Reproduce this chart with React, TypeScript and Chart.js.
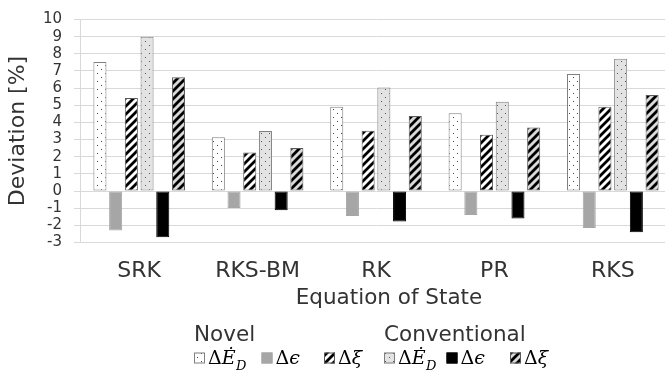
import React, { useEffect, useRef } from 'react';
import { Chart, registerables } from 'chart.js';

Chart.register(...registerables);

const categories = ['SRK', 'RKS-BM', 'RK', 'PR', 'RKS'];
const novelEdot = [7.52, 3.14, 4.91, 4.53, 6.82];
const novelEps = [-2.3, -0.99, -1.46, -1.39, -2.15];
const novelXi = [5.43, 2.25, 3.52, 3.28, 4.91];
const convEdot = [9.0, 3.5, 6.04, 5.2, 7.71];
const convEps = [-2.69, -1.12, -1.77, -1.6, -2.4];
const convXi = [6.63, 2.51, 4.38, 3.71, 5.6];
const yMin = -3;
const yMax = 10;
const groupTitles = ['Novel', 'Conventional'];
const xTitle = 'Equation of State';
const yTitle = 'Deviation [%]';

const SANS = '"DejaVu Sans", sans-serif';
const SERIF = '"DejaVu Serif", serif';
const TEXT = '#333333';

function dotPattern(bg: string, dot: string): CanvasPattern {
  const c = document.createElement('canvas');
  c.width = 8;
  c.height = 8;
  const x = c.getContext('2d')!;
  x.fillStyle = bg;
  x.fillRect(0, 0, 8, 8);
  x.fillStyle = dot;
  x.fillRect(1, 1, 1, 1);
  x.fillRect(5, 5, 1, 1);
  return x.createPattern(c, 'repeat')!;
}

function hatchPattern(bg: string, fg: string): CanvasPattern {
  const c = document.createElement('canvas');
  c.width = 8;
  c.height = 8;
  const x = c.getContext('2d')!;
  x.fillStyle = bg;
  x.fillRect(0, 0, 8, 8);
  x.strokeStyle = fg;
  x.lineWidth = 2.8;
  x.beginPath();
  x.moveTo(-1, 9);
  x.lineTo(9, -1);
  x.moveTo(-2, 2);
  x.lineTo(2, -2);
  x.moveTo(6, 10);
  x.lineTo(10, 6);
  x.stroke();
  return x.createPattern(c, 'repeat')!;
}

type Seg = { t: string; italic?: boolean; sub?: boolean };

export default function App() {
  const ref = useRef<HTMLCanvasElement>(null);

  useEffect(() => {
    const canvas = ref.current!;
    const pNovelE = dotPattern('#ffffff', '#444444');
    const pNovelX = hatchPattern('#ffffff', '#000000');
    const pConvE = dotPattern('#e3e3e3', '#555555');
    const pConvX = hatchPattern('#d9d9d9', '#000000');

    const styles = [
      { bg: pNovelE, bd: '#7f7f7f' },
      { bg: '#a6a6a6', bd: '#a6a6a6' },
      { bg: pNovelX, bd: '#595959' },
      { bg: pConvE, bd: '#7f7f7f' },
      { bg: '#000000', bd: '#000000' },
      { bg: pConvX, bd: '#595959' },
    ];
    const series = [novelEdot, novelEps, novelXi, convEdot, convEps, convXi];
    const labels: Seg[][] = [
      [{ t: 'Δ' }, { t: 'Ė', italic: true }, { t: 'D', italic: true, sub: true }],
      [{ t: 'Δ' }, { t: 'ϵ', italic: true }],
      [{ t: 'Δ' }, { t: 'ξ', italic: true }],
      [{ t: 'Δ' }, { t: 'Ė', italic: true }, { t: 'D', italic: true, sub: true }],
      [{ t: 'Δ' }, { t: 'ϵ', italic: true }],
      [{ t: 'Δ' }, { t: 'ξ', italic: true }],
    ];
    const boxX = [194, 261.5, 324, 384, 446.5, 510];

    const textPlugin = {
      id: 'extraText',
      afterDraw(chart: any) {
        const ctx: CanvasRenderingContext2D = chart.ctx;
        ctx.save();
        ctx.fillStyle = TEXT;
        ctx.textBaseline = 'alphabetic';
        ctx.textAlign = 'center';
        ctx.font = `21.5px ${SANS}`;
        ctx.fillText(xTitle, 389, 303.5);
        ctx.textAlign = 'left';
        ctx.fillText(groupTitles[0], 194, 340.5);
        ctx.fillText(groupTitles[1], 384, 340.5);
        for (let i = 0; i < 6; i++) {
          const bx = boxX[i];
          const by = 352.5;
          ctx.fillStyle = styles[i].bg as any;
          ctx.fillRect(bx, by, 11, 11);
          ctx.strokeStyle = styles[i].bd;
          ctx.lineWidth = 1;
          ctx.strokeRect(bx + 0.5, by + 0.5, 10, 10);
          let x = bx + 14;
          ctx.fillStyle = '#000000';
          for (const s of labels[i]) {
            const size = s.sub ? 13 : 19;
            ctx.font = `${s.italic ? 'italic ' : ''}${size}px ${SERIF}`;
            ctx.fillText(s.t, x, s.sub ? 369.5 : 364);
            x += ctx.measureText(s.t).width + (s.italic && !s.sub ? 0.5 : 0);
          }
        }
        ctx.restore();
      },
    };

    const chart = new Chart(canvas, {
      type: 'bar',
      data: {
        labels: categories,
        datasets: series.map((d, i) => ({
          label: 'series' + i,
          data: d,
          backgroundColor: styles[i].bg as any,
          borderColor: styles[i].bd,
          borderWidth: 1,
          borderSkipped: false,
          categoryPercentage: 0.796,
          barPercentage: 0.83,
        })),
      },
      options: {
        responsive: false,
        animation: false,
        devicePixelRatio: 1,
        layout: { padding: { top: 15, left: 0, right: 0, bottom: 0 } },
        plugins: { legend: { display: false }, tooltip: { enabled: false } },
        scales: {
          x: {
            afterFit: (s: any) => {
              s.height = 132.5;
            },
            grid: { display: false },
            border: { display: true, color: '#d9d9d9' },
            ticks: {
              color: TEXT,
              font: { family: SANS, size: 22 },
              maxRotation: 0,
              autoSkip: false,
              padding: 8,
            },
          },
          y: {
            min: yMin,
            max: yMax,
            afterFit: (s: any) => {
              s.width = 80;
            },
            grid: { color: '#d9d9d9', tickLength: 6, lineWidth: 1 },
            border: { display: true, color: '#d9d9d9' },
            ticks: {
              stepSize: 1,
              autoSkip: false,
              color: TEXT,
              font: { family: SANS, size: 15, lineHeight: 1 },
              padding: 12,
            },
            title: {
              display: true,
              text: yTitle,
              color: TEXT,
              font: { family: SANS, size: 22 },
              padding: { top: 5, bottom: 0 },
            },
          },
        },
      },
      plugins: [textPlugin],
    });
    return () => chart.destroy();
  }, []);

  return (
    <div
      style={{
        position: 'fixed',
        left: 0,
        top: 0,
        width: 665,
        height: 375,
        overflow: 'hidden',
        background: '#ffffff',
      }}
    >
      <canvas ref={ref} width={672} height={375} style={{ display: 'block', width: 672, height: 375 }} />
    </div>
  );
}
